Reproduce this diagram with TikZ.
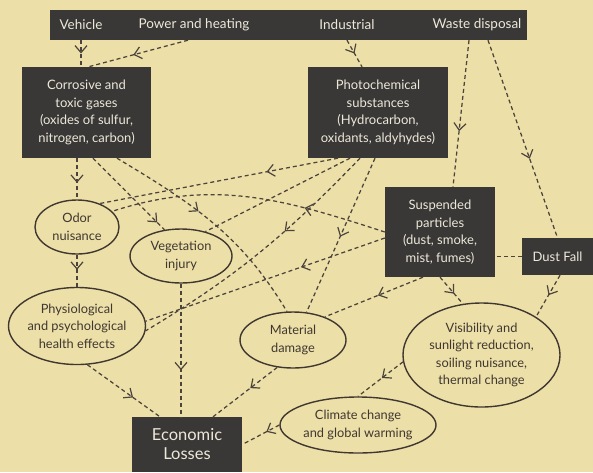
\documentclass[tikz,border=0pt]{standalone}
\usepackage{fontspec}
\setmainfont{Lato}
\usetikzlibrary{shapes.geometric,arrows.meta,decorations.markings,calc}
\definecolor{paper}{RGB}{237,223,168}
\definecolor{boxc}{RGB}{58,56,54}
\definecolor{boxtext}{RGB}{236,232,218}
\definecolor{inkc}{RGB}{62,56,48}
\definecolor{linec}{RGB}{74,68,60}
\begin{document}
\begin{tikzpicture}[x=1pt,y=-1pt,
  dbox/.style={fill=boxc, draw=none, text=boxtext, inner sep=0pt, align=center, font=\fontsize{13}{17.5}\selectfont},
  oval/.style={ellipse, draw=inkc, line width=1.4pt, text=inkc, inner sep=-15pt, align=center, font=\fontsize{12.8}{17.5}\selectfont},
  lbl/.style={text=boxtext, inner sep=0pt, font=\fontsize{13.5}{15}\selectfont},
  flow/.style={draw=linec, line width=1.25pt, dash pattern=on 4pt off 3pt, postaction={decorate}, decoration={markings, mark=at position #1 with {\arrow{Straight Barb[length=7pt,width=12pt,line width=1.2pt]}}}},
  flow/.default=0.5,
  plainflow/.style={draw=linec, line width=1.25pt, dash pattern=on 4pt off 3pt}
]
\fill[paper] (0,0) rectangle (593,472);
\useasboundingbox (0,0) rectangle (593,472);

\node[dbox, minimum width=477pt, minimum height=30pt] (bar) at (288.5,25) {};
\node[lbl] (veh) at (81,25) {Vehicle};
\node[lbl] (pow) at (194,25) {Power and heating};
\node[lbl] (ind) at (347,25) {Industrial};
\node[lbl] (waste) at (477,25) {Waste disposal};

\node[dbox, minimum width=129pt, minimum height=91pt] (corr) at (86.5,112.5) {Corrosive and\\toxic gases\\(oxides of sulfur,\\nitrogen, carbon)};
\node[dbox, minimum width=140pt, minimum height=91pt] (photo) at (378,112.5) {Photochemical\\substances\\(Hydrocarbon,\\oxidants, aldyhydes)};
\node[dbox, minimum width=110pt, minimum height=90pt] (susp) at (440,232) {Suspended\\particles\\(dust, smoke,\\mist, fumes)};
\node[dbox, minimum width=71pt, minimum height=37pt] (dust) at (557.5,256.5) {Dust Fall};
\node[dbox, minimum width=110pt, minimum height=55pt, font=\fontsize{16.5}{19}\selectfont] (econ) at (187,444.5) {Economic\\Losses};

\node[oval, minimum width=84pt, minimum height=54pt] (odor) at (77,227) {Odor\\nuisance};
\node[oval, minimum width=102pt, minimum height=54pt] (veg) at (181,256) {Vegetation\\injury};
\node[oval, minimum width=137pt, minimum height=77pt] (phys) at (77,326) {Physiological\\and psychological\\health effects};
\node[oval, minimum width=106pt, minimum height=56pt] (mat) at (293,340) {Material\\damage};
\node[oval, minimum width=157pt, minimum height=104pt] (vis) at (481.5,355) {Visibility and\\sunlight reduction,\\soiling nuisance,\\thermal change};
\node[oval, minimum width=156pt, minimum height=56pt] (clim) at (358,425) {Climate change\\and global warming};

\draw[flow] (veh.south |- bar.south) -- (veh.south |- corr.north);
\draw[flow=0.55] ([xshift=-6pt]pow.south |- bar.south) -- ([xshift=2pt]corr.north);
\draw[flow] (ind.south |- bar.south) -- ([xshift=-16pt]photo.north);
\draw[flow=0.62] ([xshift=-8pt]waste.south |- bar.south) -- ([xshift=13pt]susp.north);
\draw[flow=0.6] ([xshift=11pt]waste.south |- bar.south) -- (dust.north);
\draw[flow=0.6] (odor.north |- corr.south) -- (odor.north);
\draw[flow=0.47] (odor.south) -- (phys.north);
\draw[flow=0.9] ([xshift=6.5pt]corr.south) -- (veg.122);
\draw[flow=0.42] ([xshift=30.5pt]corr.south) to[out=-31,in=121] (mat.102);
\draw[flow=0.3] ([xshift=-40pt]photo.south) -- (odor.46);
\draw[flow=0.3] (susp.west) to[out=162,in=18] (odor.24);
\draw[plainflow] ([xshift=-28pt]photo.south) -- (veg.45);
\draw[flow=0.38] ([xshift=-18pt]photo.south) to[out=-134,in=31] (phys.-4);
\draw[flow=0.51] ([xshift=-3pt]photo.south) -- (mat.64);
\draw[flow=0.35] ([yshift=-6pt]susp.west) -- (phys.4);
\draw[flow=0.46] ([xshift=-17pt]susp.south) -- (mat.36);
\draw[flow=0.62] (susp.south) -- (vis.110);
\draw[plainflow] (dust.west) -- (dust.west -| susp.east);
\draw[flow=0.48] ([xshift=2.5pt]dust.south) -- (vis.35);
\draw[flow=0.47] (vis.185) -- (clim.north);
\draw[flow=0.35] (clim.west) -- (econ.east);
\draw[flow=0.42] (mat.-120) -- ([xshift=26pt]econ.north);
\draw[flow=0.63] (phys.-75) -- ([xshift=-27pt]econ.north);
\draw[flow=0.65] (veg.south) -- (veg.south |- econ.north);
\end{tikzpicture}
\end{document}
